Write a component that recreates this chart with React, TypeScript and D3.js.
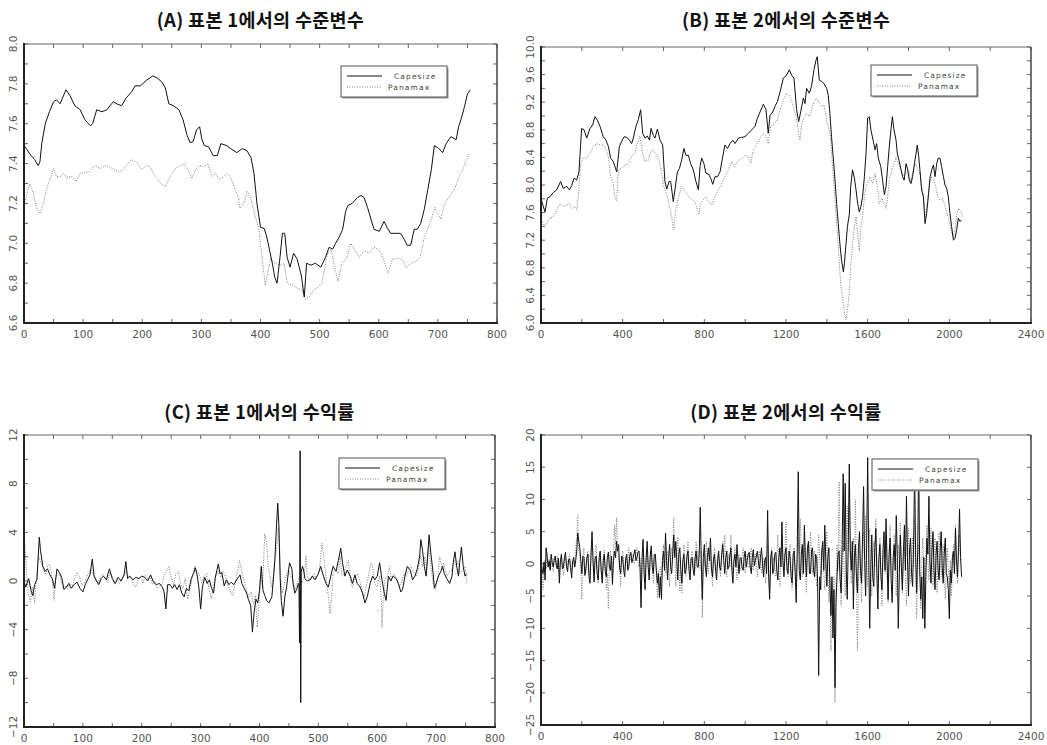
import React from "react";
import * as d3 from "d3";

// (A) level series, sample 1 : [obs, log level]
const capeA: [number, number][] = [
  [0,7.49],[5,7.47],[12,7.44],[18,7.42],[24,7.39],[27,7.41],[30,7.50],[36,7.60],[43,7.66],[50,7.71],[55,7.72],[61,7.70],[71,7.77],[78,7.74],[86,7.69],[95,7.67],[103,7.62],[112,7.59],[116,7.60],[123,7.67],[132,7.66],[140,7.67],[151,7.71],[157,7.70],[165,7.69],[173,7.73],[182,7.76],[188,7.79],[197,7.79],[208,7.82],[218,7.84],[225,7.83],[233,7.81],[239,7.78],[245,7.70],[253,7.69],[262,7.67],[269,7.62],[276,7.54],[281,7.505],[286,7.51],[292,7.57],[297,7.585],[301,7.52],[305,7.49],[312,7.485],[320,7.44],[327,7.44],[333,7.50],[343,7.49],[352,7.47],[360,7.455],[369,7.475],[377,7.465],[384,7.43],[389,7.35],[394,7.20],[400,7.08],[406,7.075],[410,7.04],[415,6.97],[420,6.90],[424,6.83],[428,6.80],[433,6.93],[437,7.05],[441,7.05],[445,6.93],[450,6.88],[456,6.95],[462,6.92],[469,6.84],[474,6.73],[478,6.90],[485,6.89],[493,6.90],[502,6.88],[510,6.93],[516,6.98],[522,6.97],[527,7.00],[533,7.03],[539,7.07],[544,7.16],[548,7.19],[555,7.20],[564,7.23],[570,7.24],[575,7.23],[581,7.18],[587,7.12],[592,7.07],[601,7.06],[609,7.11],[614,7.08],[620,7.05],[629,7.05],[637,7.05],[643,7.02],[648,6.99],[654,6.99],[660,7.07],[665,7.07],[671,7.10],[677,7.17],[683,7.27],[689,7.37],[694,7.49],[700,7.48],[708,7.455],[714,7.50],[722,7.535],[731,7.52],[735,7.585],[739,7.62],[745,7.685],[750,7.75],[755,7.77],
];
const panaA: [number, number][] = [
  [0,7.18],[6,7.26],[10,7.30],[16,7.25],[21,7.18],[27,7.15],[33,7.20],[38,7.27],[44,7.32],[50,7.375],[55,7.335],[61,7.335],[67,7.35],[72,7.33],[81,7.335],[88,7.31],[95,7.35],[103,7.355],[111,7.36],[119,7.39],[129,7.375],[139,7.39],[149,7.375],[162,7.355],[171,7.385],[182,7.42],[191,7.405],[199,7.37],[208,7.39],[213,7.385],[222,7.335],[231,7.30],[239,7.285],[247,7.335],[256,7.375],[264,7.39],[270,7.40],[277,7.37],[284,7.325],[290,7.37],[297,7.39],[305,7.385],[311,7.40],[318,7.335],[324,7.35],[331,7.32],[338,7.335],[343,7.35],[349,7.335],[355,7.285],[362,7.235],[365,7.175],[372,7.20],[377,7.26],[383,7.235],[390,7.15],[397,7.07],[403,6.92],[408,6.79],[412,6.85],[417,6.92],[425,6.90],[434,6.89],[440,6.90],[445,6.80],[454,6.79],[462,6.775],[470,6.765],[476,6.72],[482,6.73],[490,6.765],[496,6.775],[504,6.80],[513,6.95],[520,6.965],[526,6.87],[531,6.81],[538,6.90],[546,6.93],[553,7.00],[559,6.965],[567,6.93],[575,6.965],[584,6.95],[592,6.98],[601,6.965],[608,6.92],[616,6.85],[623,6.92],[632,6.925],[640,6.92],[646,6.875],[654,6.90],[663,6.91],[670,6.93],[677,7.03],[683,7.07],[689,7.12],[695,7.18],[700,7.15],[705,7.12],[711,7.20],[719,7.23],[728,7.27],[736,7.335],[742,7.37],[747,7.41],[753,7.45],
];

// (B) level series, sample 2
const capeB: [number, number][] = [
  [0,7.81],[10,7.70],[20,7.61],[31,7.81],[44,7.83],[60,7.89],[77,7.93],[96,8.05],[109,7.95],[126,7.98],[139,7.93],[150,7.99],[162,8.10],[175,8.07],[186,8.19],[199,8.82],[211,8.80],[224,8.68],[240,8.82],[253,8.87],[264,8.99],[276,8.94],[289,8.85],[305,8.70],[318,8.65],[330,8.56],[341,8.39],[354,8.34],[371,8.19],[384,8.56],[395,8.63],[407,8.70],[420,8.69],[433,8.65],[444,8.60],[452,8.68],[465,8.85],[477,8.95],[488,9.09],[498,8.75],[509,8.68],[521,8.71],[531,8.65],[539,8.82],[550,8.72],[558,8.68],[570,8.81],[583,8.65],[596,8.58],[607,8.05],[616,7.94],[627,8.05],[635,8.05],[648,7.76],[656,7.93],[668,8.19],[678,8.24],[689,8.36],[700,8.53],[710,8.43],[722,8.43],[733,8.31],[746,8.22],[759,8.05],[771,7.93],[779,8.27],[787,8.39],[798,8.31],[808,8.17],[820,8.16],[831,8.10],[841,8.01],[852,8.12],[864,8.12],[877,8.19],[890,8.41],[901,8.58],[913,8.53],[926,8.60],[939,8.65],[950,8.60],[967,8.68],[983,8.69],[999,8.70],[1016,8.75],[1032,8.80],[1048,8.85],[1060,8.97],[1073,9.06],[1089,9.17],[1102,9.09],[1113,8.75],[1122,9.01],[1135,9.06],[1146,9.14],[1158,9.21],[1171,9.35],[1187,9.55],[1203,9.59],[1216,9.67],[1228,9.59],[1239,9.55],[1252,9.09],[1262,8.92],[1272,9.06],[1285,9.26],[1293,9.18],[1301,9.40],[1314,9.33],[1325,9.43],[1337,9.67],[1347,9.81],[1353,9.86],[1363,9.52],[1375,9.50],[1386,9.47],[1399,9.40],[1407,9.30],[1415,9.04],[1423,8.70],[1431,8.41],[1440,8.07],[1448,7.73],[1456,7.44],[1464,7.15],[1472,6.91],[1481,6.74],[1486,6.86],[1494,7.15],[1501,7.40],[1510,7.57],[1517,7.98],[1526,8.22],[1535,8.10],[1543,7.93],[1551,7.73],[1559,7.61],[1567,7.69],[1575,7.83],[1584,8.12],[1592,8.46],[1600,8.97],[1608,8.99],[1616,8.80],[1628,8.63],[1636,8.51],[1644,8.60],[1652,8.39],[1664,8.27],[1673,8.07],[1682,7.86],[1690,7.98],[1698,8.27],[1706,8.56],[1714,8.80],[1721,8.99],[1729,8.80],[1739,8.65],[1745,8.46],[1755,8.34],[1762,8.24],[1771,8.12],[1779,8.07],[1788,8.31],[1796,8.22],[1804,8.07],[1812,8.02],[1820,8.12],[1829,8.31],[1837,8.46],[1843,8.58],[1850,8.41],[1856,8.22],[1864,7.93],[1873,7.83],[1881,7.44],[1889,7.59],[1897,7.83],[1906,8.12],[1914,8.22],[1922,8.29],[1930,8.12],[1938,8.31],[1946,8.39],[1954,8.39],[1962,8.27],[1971,8.12],[1979,8.00],[1987,7.95],[1995,7.83],[2003,7.59],[2011,7.40],[2020,7.20],[2028,7.23],[2036,7.35],[2044,7.52],[2052,7.47],[2060,7.49],
];
const panaB: [number, number][] = [
  [0,7.54],[11,7.42],[28,7.44],[44,7.52],[60,7.54],[77,7.64],[93,7.73],[109,7.69],[126,7.71],[139,7.73],[150,7.66],[162,7.69],[175,7.64],[184,7.88],[194,8.31],[207,8.39],[224,8.39],[240,8.46],[256,8.56],[273,8.60],[289,8.58],[305,8.58],[318,8.51],[330,8.41],[341,8.12],[354,8.02],[362,7.81],[371,7.77],[379,8.22],[395,8.24],[411,8.29],[428,8.31],[444,8.41],[460,8.46],[472,8.60],[485,8.71],[498,8.46],[509,8.34],[526,8.36],[537,8.48],[550,8.51],[567,8.43],[580,8.34],[591,8.17],[602,7.98],[616,7.86],[627,7.73],[640,7.54],[650,7.35],[660,7.64],[673,7.81],[689,7.98],[700,7.93],[713,7.88],[730,7.81],[743,7.78],[754,7.76],[766,7.64],[774,7.57],[782,7.73],[795,7.78],[807,7.83],[820,7.76],[836,7.71],[852,7.83],[869,7.93],[885,8.02],[901,8.12],[918,8.22],[934,8.34],[950,8.27],[967,8.36],[983,8.39],[999,8.43],[1016,8.41],[1027,8.31],[1040,8.51],[1056,8.58],[1073,8.68],[1089,8.75],[1102,8.70],[1113,8.60],[1125,8.85],[1138,8.87],[1154,8.92],[1171,9.09],[1187,9.23],[1203,9.33],[1216,9.30],[1232,9.18],[1249,8.99],[1260,8.80],[1268,8.65],[1277,8.89],[1288,8.97],[1301,9.04],[1314,8.99],[1325,9.09],[1337,9.21],[1350,9.26],[1363,9.18],[1375,9.14],[1386,9.16],[1399,8.94],[1410,8.80],[1418,8.70],[1427,8.31],[1435,7.98],[1443,7.64],[1451,7.35],[1459,6.96],[1468,6.57],[1476,6.38],[1486,6.14],[1494,6.05],[1501,6.19],[1510,6.43],[1518,6.86],[1526,7.15],[1535,7.40],[1543,7.54],[1551,7.30],[1559,7.04],[1567,7.40],[1575,7.54],[1584,7.83],[1592,7.98],[1600,8.02],[1611,8.12],[1624,8.02],[1636,8.17],[1649,7.93],[1657,7.73],[1669,7.81],[1682,7.73],[1690,7.66],[1698,7.83],[1706,8.07],[1718,8.22],[1729,8.31],[1739,8.41],[1750,8.31],[1762,8.22],[1775,8.12],[1788,8.17],[1800,8.22],[1810,8.05],[1824,8.22],[1835,8.31],[1845,8.22],[1856,8.17],[1864,8.02],[1873,7.83],[1882,7.54],[1892,7.73],[1902,8.02],[1914,8.12],[1922,8.10],[1933,7.98],[1943,7.83],[1954,7.78],[1966,7.81],[1975,7.73],[1987,7.61],[1998,7.49],[2008,7.35],[2020,7.25],[2028,7.35],[2036,7.59],[2047,7.66],[2057,7.61],[2063,7.54],
];

// (C) returns, sample 1
const capeC: [number, number][] = [
  [0,0.0],[3,-0.5],[8,0.2],[12,-0.8],[15,-1.2],[18,-0.3],[22,0.1],[26,3.6],[28,2.5],[32,1.2],[36,0.8],[40,1.0],[44,0.5],[48,0.2],[52,-0.6],[56,1.0],[60,0.7],[64,0.3],[68,-0.7],[72,-0.5],[76,-0.2],[80,-0.6],[85,-0.3],[90,-0.1],[95,-0.6],[100,-0.9],[104,-0.3],[108,0.1],[112,0.5],[116,1.8],[119,0.4],[123,0.0],[127,-0.3],[131,0.2],[135,0.4],[140,0.1],[145,1.0],[150,0.2],[155,-0.2],[160,0.3],[165,0.0],[170,0.5],[173,1.6],[176,0.2],[180,0.4],[185,0.1],[190,0.3],[195,0.2],[200,0.4],[205,0.3],[210,0.0],[215,0.5],[220,-0.1],[225,-0.3],[230,-0.2],[235,-0.5],[238,-0.9],[241,-2.3],[244,-0.3],[248,-0.3],[252,-0.6],[256,-0.3],[260,-0.7],[264,-0.3],[268,-1.0],[272,-1.3],[276,-0.6],[280,-0.8],[284,0.2],[288,0.6],[291,1.1],[294,0.5],[297,-0.5],[300,-2.3],[303,-0.5],[307,0.3],[311,-0.2],[315,0.1],[318,-0.5],[322,-1.0],[325,0.3],[330,1.4],[333,0.6],[336,0.7],[340,-0.4],[344,0.1],[348,-0.3],[352,-0.1],[356,-0.3],[360,0.0],[364,0.3],[367,0.5],[370,-0.2],[374,-0.6],[378,-1.0],[381,-1.5],[385,-2.0],[388,-4.2],[391,-2.5],[394,-1.5],[397,-1.8],[400,-0.8],[403,1.2],[406,-0.8],[409,-1.2],[412,-1.6],[416,-1.8],[421,-1.3],[424,0.4],[426,1.7],[429,4.7],[431,6.4],[433,4.5],[435,0.4],[437,-1.6],[440,-2.9],[443,-1.3],[446,-0.5],[451,1.5],[455,1.0],[457,-0.2],[460,-1.0],[463,-0.7],[466,-0.2],[467,-0.3],[468,-5.1],[469,10.7],[470,-10.0],[471,0.8],[473,1.2],[475,0.9],[477,0.2],[481,0.0],[486,0.1],[490,0.4],[494,0.1],[500,0.6],[504,1.2],[508,0.5],[513,-0.2],[517,-0.5],[521,0.4],[525,1.2],[530,0.8],[534,1.7],[538,2.7],[541,1.5],[545,0.4],[549,0.9],[554,0.4],[558,-0.2],[562,0.5],[566,-0.2],[571,-0.5],[575,-1.0],[579,-1.8],[583,-1.3],[588,-0.2],[592,0.4],[596,0.1],[600,0.4],[604,1.5],[608,0.1],[612,-1.0],[615,-1.6],[619,0.4],[623,0.0],[627,0.4],[632,0.2],[636,-0.2],[640,-0.9],[643,-0.7],[647,0.4],[651,1.2],[656,0.9],[660,0.1],[664,0.4],[668,1.0],[672,2.0],[674,3.4],[677,2.5],[680,1.2],[683,0.4],[686,2.3],[688,3.8],[691,2.3],[695,0.6],[697,-0.6],[700,-0.2],[704,0.4],[708,0.8],[711,1.2],[714,0.6],[718,0.2],[723,-0.2],[727,0.4],[729,1.5],[732,2.4],[735,1.2],[738,0.4],[740,1.5],[743,2.8],[746,1.2],[749,0.4],[752,0.6],
];
const panaC: [number, number][] = [
  [0,0.5],[1,3.3],[4,1.0],[7,-1.0],[11,-1.7],[14,-0.5],[18,-1.8],[21,0.2],[25,2.0],[29,1.5],[33,1.0],[37,0.5],[41,1.4],[45,1.2],[49,-0.4],[51,-1.6],[54,0.3],[58,0.6],[62,0.3],[66,-0.6],[70,-0.4],[74,-0.6],[78,-0.2],[82,-0.4],[86,0.2],[90,0.7],[94,0.4],[98,-0.3],[102,-0.2],[106,0.3],[110,0.7],[114,0.9],[118,0.5],[122,0.2],[126,-0.2],[130,0.4],[134,0.6],[138,0.2],[142,-0.1],[146,0.7],[150,0.3],[154,-0.3],[158,0.2],[162,-0.2],[166,0.1],[170,0.5],[174,0.8],[178,0.4],[182,0.2],[186,-0.3],[190,-0.5],[194,0.2],[198,0.3],[202,-0.2],[206,0.5],[210,0.2],[214,0.4],[218,-0.3],[222,0.0],[226,-0.6],[230,-0.4],[234,-0.3],[238,0.5],[242,0.8],[246,1.2],[250,0.3],[254,-0.4],[258,0.6],[262,0.8],[266,-0.2],[270,-0.6],[274,0.2],[278,-1.5],[282,-0.6],[286,0.4],[290,1.2],[294,0.8],[298,0.5],[302,-0.2],[306,0.4],[310,0.6],[314,-0.6],[318,-1.5],[322,-0.4],[326,0.5],[330,0.8],[334,0.3],[338,0.8],[342,0.4],[346,-0.3],[350,-0.8],[354,-1.2],[358,-0.4],[362,0.6],[366,1.7],[370,0.8],[374,0.0],[378,-0.7],[382,-1.3],[386,-0.9],[390,-1.9],[393,-1.2],[396,-3.8],[399,-2.0],[402,0.3],[405,-0.5],[409,3.9],[412,3.1],[415,1.2],[418,0.3],[421,-0.5],[424,0.6],[426,1.7],[429,2.5],[432,4.5],[434,2.8],[436,0.1],[439,-1.0],[442,-0.2],[445,0.4],[449,0.9],[453,0.4],[457,0.1],[460,-0.7],[464,-0.2],[468,0.4],[472,-0.2],[476,0.4],[479,2.1],[481,0.4],[485,0.1],[489,0.4],[493,0.6],[496,0.1],[500,0.6],[503,1.5],[506,3.1],[508,2.5],[511,1.2],[514,-0.2],[517,-1.3],[520,-2.7],[523,-1.0],[525,0.6],[530,0.9],[534,0.6],[537,2.0],[540,0.4],[544,0.6],[547,1.2],[551,1.7],[554,0.1],[558,-0.5],[562,0.1],[566,0.6],[570,0.1],[574,-0.7],[578,-1.3],[581,-0.5],[585,0.4],[589,1.5],[592,1.2],[596,-0.2],[600,-0.5],[604,0.4],[607,-1.6],[608,-3.8],[610,-1.6],[613,0.1],[617,0.4],[621,1.2],[624,0.2],[628,0.6],[633,0.1],[637,-0.5],[641,-0.2],[645,0.6],[649,0.4],[653,0.9],[657,1.2],[661,0.8],[666,0.4],[670,1.0],[674,2.1],[677,1.2],[681,2.0],[684,0.9],[687,2.8],[691,1.2],[695,-0.2],[699,-0.7],[703,0.4],[706,2.0],[710,0.9],[713,1.5],[718,0.4],[723,0.8],[727,0.9],[731,1.7],[734,1.2],[738,1.6],[740,0.6],[745,0.9],[749,1.2],[752,-0.2],
];

// (D) returns, sample 2, one reading every 5 obs (rows of 20 = 100 obs)
const stepD = 5;
const capeD = [
  0.5,-0.8,-1.5,0.3,-2.5,2.5,1.0,-0.5,0.5,-1.0,1.5,0.2,-0.5,0.8,1.2,-0.3,-0.8,0.9,-3.0,0.4,
  1.5,-0.8,-0.5,1.0,1.8,-0.4,-1.2,0.6,0.8,-0.6,-2.2,0.3,1.0,-0.5,0.5,2.0,4.8,3.5,2.5,0.5,
  -1.5,1.2,1.0,-1.8,-0.8,1.0,1.5,-2.0,-3.0,1.5,5.0,0.5,-2.8,0.8,1.2,-1.5,-2.5,1.0,2.0,-1.0,
  -3.0,0.5,1.5,-1.2,-2.0,1.0,1.8,-0.5,-1.0,1.2,-3.2,0.5,2.0,1.0,3.5,2.0,3.0,-0.5,-1.5,1.2,
  1.0,-1.0,-2.0,0.8,1.5,-1.0,-0.5,1.2,1.8,0.2,0.8,1.5,2.2,0.5,1.0,1.8,2.0,-0.5,-6.8,1.0,
  3.8,-1.5,-4.0,1.0,3.5,-0.5,-2.5,1.2,2.8,-0.5,-1.5,1.5,1.5,-1.0,-3.0,-1.5,-5.2,-2.0,-5.5,0.5,
  2.0,-1.0,4.8,0.5,-2.5,1.0,3.0,-0.5,-1.5,1.5,4.5,1.0,3.5,0.5,-2.5,1.5,2.5,-1.0,-3.0,0.5,
  1.5,-1.5,-1.0,1.2,2.0,-1.0,-2.5,0.8,1.0,-0.8,-1.8,1.0,2.0,-0.5,-0.5,1.5,8.8,0.5,-5.5,1.0,
  3.0,-0.5,-2.0,1.0,2.5,0.5,4.0,-0.8,-2.0,0.8,1.5,-1.0,-2.5,0.5,2.0,-0.5,-1.0,1.5,3.0,0.5,
  -1.5,1.0,2.0,-0.8,-0.5,1.2,2.5,-1.0,-3.0,0.5,1.5,-0.5,3.0,0.5,-1.5,0.8,1.0,-0.5,-1.0,1.0,
  2.0,-0.5,0.5,1.5,1.8,-0.5,-1.5,1.0,2.2,-0.3,0.5,1.2,2.0,0.3,-0.8,1.0,2.5,0.0,-2.0,0.5,
  1.0,-1.5,8.3,-2.0,-5.5,1.0,2.0,-1.5,-1.0,1.5,1.8,-1.0,-2.5,1.0,2.5,-0.5,6.5,0.5,-2.0,1.5,
  2.5,-1.0,-1.5,2.0,1.0,-2.0,-3.0,1.5,2.0,-1.5,-6.0,2.0,14.3,-1.0,-2.5,1.5,3.0,-1.5,6.0,1.0,
  -2.0,2.5,3.5,-1.5,-1.5,2.0,2.5,-1.0,-2.0,1.5,1.0,-3.0,-17.3,-2.0,-4.0,2.0,3.5,-1.0,6.0,0.5,
  -3.5,1.0,2.5,-3.0,-8.0,-2.0,-11.5,-4.0,-19.2,-6.0,-2.0,1.5,2.0,-2.5,-4.5,3.0,14.0,2.0,12.5,-1.0,
  -5.5,3.0,15.5,2.0,-1.0,3.5,-7.0,1.0,3.0,-2.0,-4.5,2.5,5.0,-1.0,-3.0,4.0,12.0,0.5,-5.0,3.0,
  16.5,2.0,-10.0,-1.0,4.5,-2.0,-3.5,2.5,5.5,-1.5,-7.0,1.0,3.0,-2.0,-4.0,2.0,5.0,-1.0,7.0,0.5,
  -5.5,1.5,4.0,-2.5,-6.0,1.0,3.0,-1.0,7.5,1.0,-10.0,-1.5,4.5,-0.5,-4.0,2.0,6.0,-1.0,10.5,1.0,
  -5.0,2.0,4.0,-1.5,-3.5,3.0,15.0,1.0,-4.5,2.0,16.0,-1.0,-5.5,-2.0,-8.5,1.0,-10.0,-2.0,4.0,1.5,
  10.5,0.5,-3.0,2.0,5.0,-1.0,-4.0,1.5,3.5,-1.0,-2.5,2.0,5.0,-0.5,-3.0,1.5,4.0,-1.5,-2.0,-4.0,
  -8.5,-1.0,-3.0,1.0,2.0,-1.5,5.5,0.5,-2.0,2.5,8.5,1.0,-2.0,
];
const panaD = [
  1.5,-1.0,-4.0,0.5,0.5,-0.8,1.8,0.2,-0.5,1.0,1.0,-0.5,-1.2,0.8,0.8,-0.4,1.2,-0.6,-1.5,0.6,
  0.8,-0.5,-1.8,0.4,1.0,-0.6,-0.8,1.0,1.5,-0.4,-1.0,0.5,0.5,-0.5,2.5,4.0,7.5,2.0,1.0,-1.5,
  -5.5,1.0,2.5,-0.5,-1.5,1.5,2.0,-1.0,-2.0,1.0,3.5,-0.5,-1.5,1.5,3.0,-1.0,-3.0,0.5,1.0,-1.5,
  -2.5,1.0,2.2,-1.0,-4.0,-1.5,-7.0,0.5,2.0,-0.5,-2.0,1.5,6.0,3.0,7.2,2.0,1.5,-1.0,-3.5,0.5,
  2.0,-0.5,-1.0,1.0,0.5,-0.5,2.5,0.5,0.5,1.5,1.5,0.0,0.5,1.5,2.5,0.5,-0.5,1.0,-4.0,-1.0,
  2.0,0.5,-2.5,0.5,2.5,-0.5,-1.5,1.0,2.0,-0.5,-3.0,0.5,0.8,-1.5,-5.3,-1.0,-4.5,-0.5,-2.0,1.0,
  3.0,-0.5,-1.5,1.0,2.0,-1.0,-3.5,0.5,2.5,1.0,7.2,1.5,-3.5,1.0,4.2,0.5,-4.3,-1.0,-4.5,0.5,
  3.0,0.5,-2.0,1.0,3.5,0.0,-1.5,1.0,2.0,-0.5,1.0,-1.0,3.5,0.5,2.0,-0.5,-1.0,2.0,-8.3,-1.0,
  1.5,-0.5,3.5,0.5,-1.5,1.0,1.0,-1.0,-3.5,0.5,2.5,-0.5,-1.0,1.0,1.5,-1.0,-2.0,1.0,3.5,1.0,
  4.5,0.0,-2.0,0.5,1.5,-0.5,4.5,0.5,-1.5,1.0,2.5,-0.5,-2.5,0.5,1.5,-0.5,-1.0,1.0,2.5,0.0,
  -1.5,1.0,1.5,-0.5,-0.5,1.0,2.5,0.0,-1.0,1.0,1.5,-0.5,-2.0,0.5,2.0,-0.5,-1.5,1.0,1.0,-1.0,
  -3.0,1.0,3.0,-1.0,-4.0,0.5,2.5,-0.5,1.0,-1.0,-2.0,1.5,4.5,-0.5,-3.5,1.0,3.5,-0.5,-1.0,2.0,
  6.5,0.5,-2.0,1.0,3.0,-1.0,-4.0,0.5,2.5,-1.0,-3.0,1.0,4.0,1.5,7.0,0.5,-2.0,1.0,2.5,-1.5,
  -4.5,0.5,3.0,1.0,5.0,0.5,-1.5,1.0,2.0,-1.0,-3.5,0.5,4.5,1.0,-2.0,0.5,2.5,-1.5,-4.0,1.0,
  5.0,-1.0,-6.0,-2.0,-13.5,-3.0,-7.0,-2.0,-21.5,-4.0,3.0,-1.0,12.8,1.0,-6.5,0.5,3.5,-1.0,-5.0,1.0,
  9.0,2.0,13.0,0.5,-3.0,1.0,4.0,-1.0,10.0,-2.0,-13.5,-3.0,2.0,-1.0,-6.0,0.5,5.0,1.0,7.5,0.5,
  -3.5,1.0,5.5,-1.0,-5.0,1.0,3.5,-0.5,7.0,1.0,-4.0,0.5,4.0,-1.0,-6.5,0.5,2.0,-1.5,3.5,-1.0,
  -6.0,1.0,6.0,0.5,-2.0,1.0,4.5,-1.0,-5.0,0.5,3.0,-1.0,6.5,0.5,-4.5,0.5,2.5,-2.0,-6.5,0.5,
  5.5,0.5,-3.0,1.0,4.0,-0.5,7.0,1.0,-8.5,-1.0,3.0,-1.0,-7.0,0.5,4.0,-1.0,-5.0,1.0,6.0,1.0,
  -2.5,1.0,5.5,0.5,-3.5,1.0,4.0,-0.5,-4.5,0.5,5.0,1.0,-2.0,0.5,3.0,-1.0,-5.5,-0.5,2.5,-1.0,
  -3.5,0.5,-5.0,-1.0,3.0,0.5,6.0,1.0,-3.0,1.0,4.5,1.0,0.5,
];

const titles = [
  "(A) 표본 1에서의 수준변수",
  "(B) 표본 2에서의 수준변수",
  "(C) 표본 1에서의 수익률",
  "(D) 표본 2에서의 수익률",
];
const legendNames = ["Capesize", "Panamax"];

const xTicks1 = [0, 100, 200, 300, 400, 500, 600, 700, 800];
const xTicks2 = [0, 400, 800, 1200, 1600, 2000, 2400];
const yTicksA = [6.6, 6.8, 7.0, 7.2, 7.4, 7.6, 7.8, 8.0];
const yTicksB = [6.0, 6.4, 6.8, 7.2, 7.6, 8.0, 8.4, 8.8, 9.2, 9.6, 10.0];
const yTicksC = [-12, -8, -4, 0, 4, 8, 12];
const yTicksD = [-25, -20, -15, -10, -5, 0, 5, 10, 15, 20];

type PanelCfg = {
  title: string;
  left: number; right: number; top: number; bottom: number;
  xDomain: [number, number]; yDomain: [number, number];
  xTicks: number[]; xMinor: number;
  yTicks: number[]; yMinor: number; yFmt: (v: number) => string;
  cape: [number, number][]; pana: [number, number][];
  legX: number; legY: number; titleY: number;
};

const toPairs = (vals: number[]) => vals.map((v, i) => [i * stepD, v] as [number, number]);

const panels: PanelCfg[] = [
  { title: titles[0], left: 24, right: 497, top: 44, bottom: 323, xDomain: [0, 800], yDomain: [6.6, 8.0],
    xTicks: xTicks1, xMinor: 50, yTicks: yTicksA, yMinor: 0.1, yFmt: d3.format(".1f"),
    cape: capeA, pana: panaA, legX: 341, legY: 66, titleY: 19 },
  { title: titles[1], left: 541, right: 1031, top: 47, bottom: 323, xDomain: [0, 2400], yDomain: [6.0, 10.0],
    xTicks: xTicks2, xMinor: 200, yTicks: yTicksB, yMinor: 0.2, yFmt: d3.format(".1f"),
    cape: capeB, pana: panaB, legX: 871, legY: 65, titleY: 19 },
  { title: titles[2], left: 24, right: 495, top: 435, bottom: 727, xDomain: [0, 800], yDomain: [-12, 12],
    xTicks: xTicks1, xMinor: 50, yTicks: yTicksC, yMinor: 2, yFmt: d3.format("d"),
    cape: capeC, pana: panaC, legX: 339, legY: 458, titleY: 411 },
  { title: titles[3], left: 541, right: 1031, top: 435, bottom: 725, xDomain: [0, 2400], yDomain: [-25, 20],
    xTicks: xTicks2, xMinor: 200, yTicks: yTicksD, yMinor: 5, yFmt: d3.format("d"),
    cape: toPairs(capeD), pana: toPairs(panaD), legX: 872, legY: 459, titleY: 411 },
];

const tickFont = "'DejaVu Sans', sans-serif";

function Panel({ p }: { p: PanelCfg }) {
  const x = d3.scaleLinear().domain(p.xDomain).range([p.left, p.right]);
  const y = d3.scaleLinear().domain(p.yDomain).range([p.bottom, p.top]);
  const line = d3.line<[number, number]>().x((d) => x(d[0])).y((d) => y(d[1]));
  const xm = d3.range(p.xDomain[0], p.xDomain[1] + 1e-9, p.xMinor);
  const nY = Math.round((p.yDomain[1] - p.yDomain[0]) / p.yMinor);
  const ym = d3.range(0, nY + 1).map((i) => p.yDomain[0] + i * p.yMinor);
  const tl = 4;
  const cx = (p.left + p.right) / 2;
  return (
    <g>
      <text x={cx} y={p.titleY} textAnchor="middle" dominantBaseline="central"
        style={{ fontFamily: "'Noto Sans CJK KR', sans-serif", fontWeight: 700, fontSize: 18.5, letterSpacing: 0.3 }}
        fill="#111">{p.title}</text>

      {/* tick marks, pointing inward */}
      <g stroke="#666" strokeWidth={1}>
        {xm.map((t) => (
          <g key={"x" + t}>
            <line x1={x(t)} x2={x(t)} y1={p.top} y2={p.top + tl} />
            <line x1={x(t)} x2={x(t)} y1={p.bottom} y2={p.bottom - tl} />
          </g>
        ))}
        {ym.map((v, i) => (
          <g key={"y" + i}>
            <line x1={p.left} x2={p.left + tl} y1={y(v)} y2={y(v)} />
            <line x1={p.right} x2={p.right - tl} y1={y(v)} y2={y(v)} />
          </g>
        ))}
      </g>

      {/* series */}
      <path d={line(p.pana) ?? ""} fill="none" stroke="#7a7a7a" strokeWidth={1} strokeDasharray="1 1.5" />
      <path d={line(p.cape) ?? ""} fill="none" stroke="#111" strokeWidth={1} />

      {/* frame */}
      <line x1={p.left} x2={p.right} y1={p.top} y2={p.top} stroke="#666" strokeWidth={1} />
      <line x1={p.right} x2={p.right} y1={p.top} y2={p.bottom} stroke="#444" strokeWidth={1.5} />
      <line x1={p.left} x2={p.left} y1={p.top - 1} y2={p.bottom + 1} stroke="#222" strokeWidth={2} />
      <line x1={p.left - 1} x2={p.right + 1} y1={p.bottom} y2={p.bottom} stroke="#222" strokeWidth={2} />

      {/* tick labels */}
      <g style={{ fontFamily: tickFont, fontSize: 10.5 }} fill="#555">
        {p.xTicks.map((t) => (
          <text key={"xl" + t} x={x(t)} y={p.bottom + 11} textAnchor="middle" dominantBaseline="central">{t}</text>
        ))}
        {p.yTicks.map((v) => (
          <text key={"yl" + v} transform={`translate(${p.left - 11},${y(v)}) rotate(-90)`}
            textAnchor="middle" dominantBaseline="central">{p.yFmt(v)}</text>
        ))}
      </g>

      {/* legend */}
      <g>
        <rect x={p.legX + 1.5} y={p.legY + 1.5} width={106} height={31} fill="#999" />
        <rect x={p.legX} y={p.legY} width={106} height={31} fill="#fff" stroke="#555" strokeWidth={1} />
        <line x1={p.legX + 6} x2={p.legX + 41} y1={p.legY + 10} y2={p.legY + 10} stroke="#111" strokeWidth={1} />
        <line x1={p.legX + 6} x2={p.legX + 41} y1={p.legY + 21} y2={p.legY + 21} stroke="#7a7a7a" strokeWidth={1} strokeDasharray="1 1.5" />
        <g style={{ fontFamily: tickFont, fontSize: 7.5, letterSpacing: 1.1 }} fill="#444">
          <text x={p.legX + 53} y={p.legY + 10} dominantBaseline="central">{legendNames[0]}</text>
          <text x={p.legX + 47} y={p.legY + 21} dominantBaseline="central">{legendNames[1]}</text>
        </g>
      </g>
    </g>
  );
}

export default function App() {
  return (
    <div style={{ position: "absolute", left: 0, top: 0 }}>
      <svg width={1047} height={745} viewBox="0 0 1047 745" style={{ display: "block", background: "#fff" }}>
        {panels.map((p) => (
          <Panel key={p.title} p={p} />
        ))}
      </svg>
    </div>
  );
}
